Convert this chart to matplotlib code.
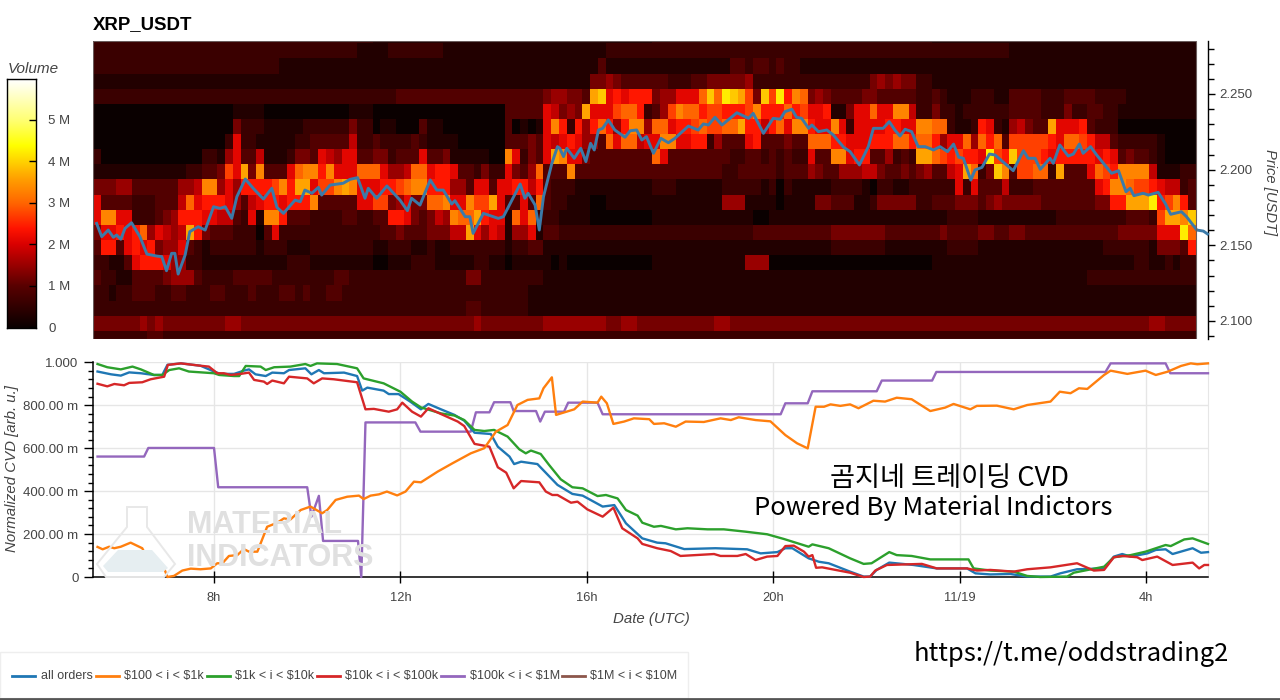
import numpy as np
import matplotlib
matplotlib.use("Agg")
import matplotlib.pyplot as plt
from matplotlib.colors import LinearSegmentedColormap
from matplotlib.lines import Line2D
from matplotlib.patches import Polygon, Rectangle
from matplotlib.ticker import FixedLocator

plt.rcParams["font.family"] = ["Liberation Sans", "DejaVu Sans"]

# volume per price bin, one row per 0.01 USDT from the top, one hex digit = 0.3 M
HEAT_ROWS = [
    "222222 222222 222222 222222 222222 222222 111111 111111 111111 111111 111111 111111 222222 222222 222222 222222 222222 222222 111111 111111 111111 111111 111111 1111",
    "222222 222222 222222 222222 222222 222211 112222 222111 111111 111111 111111 222222 222222 222222 222222 222222 222222 222222 222222 222211 111111 111111 111111 1111",
    "222222 222222 222222 222222 111111 111111 111111 111111 111111 111111 111113 111111 111111 111133 233232 211111 111111 111111 111111 111111 111111 111111 111111 1111",
    "111111 111111 111111 111111 111111 111111 111111 111111 111111 111111 111144 543333 332223 344444 522222 222222 222245 454422 111111 111111 111111 111111 111111 1111",
    "222222 222222 222222 222222 222222 222222 222333 333333 333333 333345 5443cd 787888 455777 adaedc 94d9e8 ba4543 333443 333322 321112 221133 332223 333222 211111 1111",
    "000000 000000 000000 111100 000000 000111 000000 000000 000003 333376 454c77 79aa82 359baa 899888 9b888a 897781 1477a7 7bb622 422122 222233 332224 223322 111111 1111",
    "000000 000000 000000 422211 111222 222422 011000 311000 000003 01017b 82858a 858bb5 aa7889 a99aac 8868a7 bb877b 727777 8877bb aa2112 872156 433c77 783222 000000 0000",
    "000000 000000 000002 722111 112233 333622 322223 211110 000003 334376 787553 a7aa67 7bb778 825333 783334 33aaa8 877788 8aa8aa 8577a5 a8a399 99987a a98663 222221 0000",
    "200000 000000 002215 733611 124437 657733 442333 733411 11100b 72437c b77433 333333 a73333 333322 332323 22733b b78833 5232cc a98988 7e98d9 998788 888787 343321 0000",
    "111111 111111 223349 7c4b33 37abb8 b777aa a7556a a78873 324227 435a33 3b3333 333333 333333 333223 333323 335433 555664 334345 3367ca 24db39 9aa2c3 337a98 bbbb61 1122",
    "444553 333335 56bb57 588889 b8cc79 9bcb77 7889ab b88855 377377 886832 221111 111111 222111 111222 221202 111112 222102 211222 222727 333622 233333 33378b ba9987 6623",
    "733332 223336 a78887 536788 7888b3 333377 994574 4aab77 b99c73 373a32 211100 111111 111111 111555 111101 111443 331124 444422 333444 345444 443333 333448 8ccce8 9b83",
    "7bb772 223458 887766 3271bb 833322 223322 338874 3465ba ac8771 a7a222 111100 000000 111111 111111 100111 111111 111111 111111 112222 111111 111122 222222 233329 ccbd",
    "477878 a57656 c84333 222037 222222 222222 233433 344466 c75761 557133 222222 222222 222222 222222 233333 333334 444444 333333 343333 443344 333333 333333 444447 77ea",
    "388378 784557 321222 222122 211122 222222 112221 121122 222221 223311 111111 111111 111111 111111 111111 111112 222222 111111 112222 111111 111111 111122 222214 4438",
    "221137 888755 221111 111111 122211 111111 001112 221111 122110 111110 100000 000000 111111 111111 555000 000000 000000 000000 111111 111111 111111 111111 112211 2122",
    "322113 333455 532222 333332 222222 233222 222222 222222 442222 222211 111111 111111 111111 111111 111111 111111 111111 111111 111111 111111 111111 112222 222222 2222",
    "221223 332233 222332 223222 332322 332222 222222 222222 222222 221111 111111 111111 111111 111111 111111 111111 111111 111111 111111 111111 111111 111111 111111 1111",
    "222222 222222 222222 222222 222222 222222 222222 222222 332222 221111 111111 111111 111111 111111 111111 111111 111111 111111 111111 111111 111111 111111 111111 1111",
    "444444 545444 444445 544444 444444 444444 444444 444444 454444 444455 555555 445544 444444 445544 444444 444444 444444 444444 444444 444444 444444 444444 444455 4444",
    "222222 233222 222222 222222 222222 222222 222222 222222 222222 222222 222222 222222 222222 222222 222222 222222 222222 222222 222222 222222 222222 222222 222222 2222",
]

price_t = [5.48, 5.59, 5.73, 5.84, 5.91, 6.00, 6.09, 6.23, 6.41, 6.56, 6.77, 6.88, 6.98, 7.09, 7.16, 7.23, 7.38, 7.48, 7.66, 7.81,
           7.99, 8.13, 8.24, 8.38, 8.49, 8.67, 8.84, 9.06, 9.24, 9.35, 9.49, 9.74, 9.85, 9.95, 10.10, 10.24, 10.31, 10.49, 10.77, 10.92,
           11.08, 11.24, 11.31, 11.49, 11.71, 11.99, 12.15, 12.24, 12.42, 12.64, 12.78, 12.92, 13.10, 13.17, 13.39, 13.49, 13.56, 13.78, 14.10, 14.21,
           14.57, 14.67, 14.74, 14.89, 14.98, 15.07, 15.25, 15.37, 15.42, 15.50, 15.57, 15.73, 15.87, 15.98, 16.08, 16.16, 16.25, 16.34, 16.46, 16.60,
           16.82, 16.93, 17.07, 17.18, 17.28, 17.43, 17.59, 17.75, 17.89, 18.18, 18.39, 18.50, 18.61, 18.75, 18.90, 19.22, 19.47, 19.57, 19.79, 20.00,
           20.15, 20.25, 20.40, 20.50, 20.61, 20.76, 20.83, 20.97, 21.15, 21.29, 21.51, 21.65, 21.85, 22.04, 22.15, 22.36, 22.49, 22.61, 22.72, 22.83,
           22.97, 23.11, 23.26, 23.44, 23.58, 23.74, 23.87, 23.98, 24.08, 24.24, 24.33, 24.48, 24.64, 24.76, 25.15, 25.37, 25.47, 25.62, 25.73, 25.94,
           26.01, 26.15, 26.33, 26.44, 26.57, 26.65, 26.81, 26.94, 27.26, 27.41, 27.57, 27.66, 27.74, 27.94, 28.05, 28.26, 28.41, 28.53, 28.76, 28.87,
           29.09, 29.23, 29.32]
price = [2.1645, 2.1557, 2.1601, 2.1553, 2.1568, 2.1540, 2.1612, 2.1649, 2.1557, 2.1442, 2.1429, 2.1425, 2.1332, 2.1447, 2.1447, 2.1310, 2.1436, 2.1590, 2.1623, 2.1601,
         2.1755, 2.1744, 2.1755, 2.1678, 2.1821, 2.1938, 2.1877, 2.1806, 2.1877, 2.1751, 2.1711, 2.1799, 2.1788, 2.1865, 2.1844, 2.1883, 2.1832, 2.1898, 2.1910, 2.1936,
         2.1947, 2.1811, 2.1877, 2.1811, 2.1892, 2.1799, 2.1729, 2.1811, 2.1766, 2.1932, 2.1865, 2.1865, 2.1773, 2.1795, 2.1689, 2.1689, 2.1579, 2.1711, 2.1678, 2.1689,
         2.1905, 2.1811, 2.1844, 2.1766, 2.1601, 2.1821, 2.2042, 2.2152, 2.2141, 2.2086, 2.2141, 2.2075, 2.2141, 2.2053, 2.2174, 2.2130, 2.2262, 2.2273, 2.2328, 2.2262,
         2.2214, 2.2257, 2.2262, 2.2196, 2.2218, 2.2108, 2.2207, 2.2178, 2.2207, 2.2288, 2.2262, 2.2302, 2.2295, 2.2346, 2.2295, 2.2376, 2.2339, 2.2372, 2.2240, 2.2339,
         2.2333, 2.2383, 2.2399, 2.2346, 2.2339, 2.2273, 2.2295, 2.2251, 2.2262, 2.2229, 2.2148, 2.2119, 2.2031, 2.2152, 2.2273, 2.2273, 2.2317, 2.2262, 2.2222, 2.2267,
         2.2251, 2.2152, 2.2152, 2.2130, 2.2152, 2.2119, 2.2169, 2.2082, 2.2075, 2.1931, 2.1998, 2.2015, 2.2103, 2.2097, 2.1993, 2.2125, 2.2075, 2.2075, 2.2002, 2.2075,
         2.2042, 2.2163, 2.2090, 2.2103, 2.2169, 2.2108, 2.2152, 2.2097, 2.1976, 2.1993, 2.1854, 2.1877, 2.1828, 2.1844, 2.1832, 2.1850, 2.1778, 2.1705, 2.1722, 2.1689,
         2.1601, 2.1594, 2.1575]

orange_t = [5.5, 5.61, 5.75, 5.86, 6, 6.21, 6.46, 6.61, 6.79, 6.93, 7.0, 7.14, 7.32, 7.5, 7.71, 7.93, 8.07, 8.18, 8.32, 8.5, 8.64, 8.75, 8.93, 9.14, 9.36, 9.5, 9.64, 9.86, 10.07, 10.32, 10.43, 10.61, 10.86, 11.11, 11.21, 11.36, 11.54, 11.71, 11.93, 12.11, 12.29, 12.44,
            12.8, 13.12, 13.51, 13.8, 14.05, 14.3, 14.51, 14.73, 14.98, 15.07, 15.25, 15.34, 15.73, 15.91, 16.23, 16.31, 16.43, 16.57, 16.8, 17.01, 17.34, 17.44, 17.66, 17.91, 18.12, 18.51, 18.87, 19.09, 19.26, 19.62, 19.94, 20.26, 20.51, 20.74, 20.91, 21.09, 21.23, 21.44, 21.65,
            21.83, 22.15, 22.4, 22.65, 22.97, 23.37, 23.69, 23.87, 24.23, 24.37, 24.8, 25.16, 25.45, 25.95, 26.15, 26.38, 26.56, 26.74, 27.1, 27.24, 27.6, 27.99, 28.21, 28.46, 28.75, 28.96, 29.1, 29.33]
orange = [.14, .129, .141, .134, .141, .16, .134, .07, .033, .04, 0, .005, .03, .039, .036, .04, .064, .064, .098, .102, .13, .118, .118, .234, .253, .273, .268, .312, .328, .297, .312, .359, .374, .379, .363, .379, .385, .398, .38, .398, .444, .441,
          .491, .53, .576, .6, .677, .708, .801, .825, .832, .879, .93, .755, .781, .817, .812, .84, .809, .713, .724, .739, .735, .713, .716, .7, .724, .722, .739, .731, .744, .731, .725, .661, .623, .599, .793, .793, .804, .797, .804,
          .786, .821, .817, .835, .828, .773, .789, .806, .781, .797, .798, .781, .801, .817, .863, .856, .879, .876, .941, .961, .946, .961, .941, .956, .983, .995, .991, .995]

green_t = [5.5, 5.71, 6, 6.25, 6.43, 6.71, 6.89, 7.04, 7.25, 7.46, 8, 8.11, 8.43, 8.54, 8.68, 9, 9.11, 9.29, 9.64, 9.96, 10.07, 10.21, 10.64, 11.07, 11.21, 11.64, 12, 12.25, 12.44,
           12.87, 13.16, 13.37, 13.59, 13.8, 14.01, 14.3, 14.55, 14.69, 14.8, 15.01, 15.19, 15.44, 15.69, 15.91, 16.23, 16.41, 16.66, 16.84, 17.09, 17.19, 17.44, 17.59, 17.91, 18.16, 18.59, 18.94, 19.41, 19.87, 20.23, 20.76, 20.84, 21.19, 21.65,
           21.94, 22.11, 22.49, 22.65, 22.97, 23.37, 24.19, 24.3, 24.66, 25.16, 25.45, 25.73, 26.31, 26.45, 27.1, 27.31, 27.67, 27.99, 28.42, 28.53, 28.82, 29, 29.33]
green = [.992, .977, .967, .98, .967, .941, .941, .964, .972, .957, .949, .941, .936, .936, .983, .98, .964, .977, .98, .992, .983, .995, .992, .972, .925, .902, .863, .817, .79,
         .762, .752, .731, .685, .68, .685, .654, .595, .576, .589, .573, .522, .455, .418, .413, .377, .382, .366, .312, .286, .253, .234, .238, .222, .227, .222, .222, .211, .199, .177, .141, .152, .134, .087,
         .061, .064, .116, .102, .098, .082, .082, .04, .03, .025, .005, 0, .002, .02, .048, .092, .102, .118, .149, .144, .175, .18, .154]

blue_t = [5.5, 5.79, 6, 6.18, 6.43, 6.71, 6.89, 7, 7.29, 7.71, 8, 8.14, 8.43, 8.64, 8.75, 8.89, 9.11, 9.25, 9.5, 9.61, 9.96, 10.09, 10.25, 10.36, 10.79, 11.07, 11.18, 11.29, 11.64, 11.75, 11.96, 12.21, 12.44,
          12.6, 12.87, 13.16, 13.37, 13.59, 13.94, 14.09, 14.34, 14.44, 14.59, 14.94, 15.37, 15.69, 15.91, 16.34, 16.59, 16.84, 17.19, 17.51, 17.69, 18.09, 18.76, 19.44, 19.73, 20.09, 20.26, 20.41, 20.76, 20.98, 21.19, 21.65,
          21.94, 22.08, 22.22, 22.49, 23.01, 23.51, 24.16, 24.34, 24.66, 25.09, 25.45, 25.95, 26.16, 26.52, 27.1, 27.31, 27.49, 27.67, 28.03, 28.21, 28.42, 28.57, 29, 29.18, 29.33]
blue = [.957, .944, .938, .953, .949, .941, .941, .988, .995, .984, .957, .946, .946, .961, .967, .944, .936, .952, .949, .964, .972, .944, .964, .949, .952, .936, .868, .882, .868, .852, .852, .817, .781,
        .806, .781, .755, .728, .672, .666, .607, .561, .526, .537, .526, .429, .387, .379, .328, .335, .25, .18, .16, .157, .13, .134, .129, .11, .116, .134, .134, .087, .071, .064, .025,
        .002, .002, .033, .067, .056, .04, .04, .017, .012, .014, .002, .002, .017, .036, .04, .095, .107, .095, .11, .126, .129, .107, .134, .113, .116]

red_t = [5.5, 5.71, 5.86, 6.07, 6.18, 6.46, 6.64, 6.93, 7.01, 7.29, 7.71, 7.89, 8.07, 8.21, 8.36, 8.57, 8.75, 8.86, 9.07, 9.14, 9.25, 9.5, 9.61, 10, 10.14, 10.32, 10.57, 11.07, 11.25, 11.43, 11.75, 11.93, 12.04, 12.25, 12.44,
         12.6, 12.87, 13.23, 13.37, 13.59, 13.91, 14.09, 14.27, 14.43, 14.59, 14.98, 15.12, 15.26, 15.37, 15.66, 15.8, 16.01, 16.34, 16.57, 16.76, 17.09, 17.19, 17.51, 17.8, 18.01, 18.73, 18.87, 19.23, 19.41, 19.62, 19.87, 20.09, 20.26, 20.44, 20.66, 20.76, 20.84, 20.92, 21.05, 21.65,
         21.94, 22.08, 22.19, 22.44, 23.19, 23.51, 24.16, 24.37, 24.66, 25.16, 25.45, 25.95, 26.52, 26.88, 27.1, 27.31, 27.49, 27.81, 27.92, 28.24, 28.57, 29, 29.14, 29.25, 29.33]
red = [.9, .888, .899, .893, .904, .907, .921, .933, .988, .995, .984, .98, .949, .949, .941, .946, .952, .918, .91, .899, .915, .902, .933, .925, .902, .925, .921, .907, .781, .783, .77, .781, .812, .77, .747,
       .786, .759, .724, .703, .62, .607, .511, .486, .413, .447, .441, .398, .382, .382, .346, .351, .315, .281, .323, .227, .18, .154, .134, .121, .098, .107, .098, .098, .107, .079, .095, .098, .144, .146, .118, .095, .102, .043, .045, .02,
       0, .002, .03, .056, .061, .04, .04, .03, .033, .025, .036, .045, .064, .03, .033, .092, .098, .092, .079, .095, .056, .067, .04, .056, .056]

purple_t = [5.5, 6.5, 6.59, 8, 8.09, 10, 10.09, 10.25, 10.34, 11.09, 11.16, 11.25, 12.32, 12.43, 13.51, 13.62, 13.91, 14.01, 14.36, 14.43, 14.91, 15, 15.1, 15.51, 15.6, 16.23, 16.34, 20.16, 20.26, 20.74, 20.84, 22.22, 22.33, 23.41, 23.5, 27.13, 27.24, 28.42, 28.52, 29.33]
purple = [.561, .561, .601, .601, .418, .418, .281, .378, .168, .168, 0, .72, .72, .677, .677, .767, .767, .814, .814, .773, .773, .724, .77, .77, .812, .812, .758, .758, .809, .809, .865, .865, .915, .915, .955, .955, .995, .995, .949, .949]

price_ticks = [2.10, 2.15, 2.20, 2.25]
cvd_ticks = [0, 0.2, 0.4, 0.6, 0.8, 1.0]
cvd_labels = ["0", "200.00 m", "400.00 m", "600.00 m", "800.00 m", "1.000"]
hour_ticks = [8, 12, 16, 20, 24, 28]
hour_labels = ["8h", "12h", "16h", "20h", "11/19", "4h"]
volume_ticks = [0, 1, 2, 3, 4, 5]
volume_labels = ["0", "1 M", "2 M", "3 M", "4 M", "5 M"]
legend_names = ["all orders", "$100 < i < $1k", "$1k < i < $10k", "$10k < i < $100k", "$100k < i < $1M", "$1M < i < $10M"]
line_colors = ["#1f77b4", "#ff7f0e", "#2ca02c", "#d62728", "#9467bd", "#8c564b"]

W, H = 1280, 700
TXT = "#444444"


def axes_px(fig, left, top, right, bottom):
    return fig.add_axes([left / W, 1 - bottom / H, (right - left) / W, (bottom - top) / H])


volume_cmap = LinearSegmentedColormap.from_list("volume", [
    (0.0, "#0a0000"), (1 / 6, "#580000"), (2 / 6, "#d80000"), (2.4 / 6, "#ff1400"),
    (3 / 6, "#ff6400"), (3.6 / 6, "#ffa000"), (4 / 6, "#ffd000"), (4.4 / 6, "#ffff00"),
    (5 / 6, "#ffff70"), (1.0, "#ffffff")])

fig = plt.figure(figsize=(12.8, 7), dpi=100)
xlim = (5.403, 29.33)

# heatmap and price
ax = axes_px(fig, 93, 41, 1208, 339)
levels = np.array([[int(c, 16) for c in row.replace(" ", "")] for row in HEAT_ROWS])
volume = levels * 0.3 + 0.02
t_edges = 5.403 + np.arange(levels.shape[1] + 1) / 6
p_edges = 2.2935 - np.arange(levels.shape[0] + 1) * 0.01
ax.pcolormesh(t_edges, p_edges, volume, cmap=volume_cmap, vmin=0, vmax=6, shading="flat", rasterized=True)
ax.plot(price_t, price, color="#3b7aa8", lw=2.1, clip_on=False, zorder=3)
ax.set_xlim(*xlim)
ax.set_ylim(2.0881, 2.2850)
ax.add_patch(Rectangle((xlim[0], 2.0881), t_edges[-1] - xlim[0], 2.2850 - 2.0881, fill=False, ec="#6a5c5c", lw=0.8, zorder=4))
for s in ["left", "top", "bottom"]:
    ax.spines[s].set_visible(False)
ax.spines["right"].set_linewidth(1.0)
ax.set_xticks([])
ax.yaxis.tick_right()
ax.set_yticks(price_ticks)
ax.set_yticklabels([f"{p:.3f}" for p in price_ticks])
ax.yaxis.set_minor_locator(FixedLocator(np.arange(2.09, 2.285, 0.01)))
ax.tick_params(axis="y", which="major", length=5, width=1, direction="out", labelsize=9.5, labelcolor=TXT, pad=3)
ax.tick_params(axis="y", which="minor", length=4, width=1, direction="out")
fig.text(93 / W, 1 - 25 / H, "XRP_USDT", fontsize=13.4, fontweight="bold", color="black", ha="left", va="center")
fig.text(1270 / W, 1 - 192 / H, "Price [USDT]", fontsize=10.6, style="italic", color=TXT, rotation=270, ha="center", va="center")

# colour bar
cax = axes_px(fig, 7, 79, 36, 328)
gradient = np.linspace(0, 6, 256).reshape(-1, 1)
cax.imshow(gradient, origin="lower", aspect="auto", cmap=volume_cmap, extent=[0, 1, -0.02, 5.98], vmin=0, vmax=6)
cax.set_xticks([])
cax.yaxis.tick_right()
cax.set_yticks(volume_ticks)
cax.set_yticklabels(volume_labels)
cax.tick_params(axis="y", length=5, width=1, direction="in", labelsize=9.5, labelcolor=TXT, pad=9)
for s in cax.spines.values():
    s.set_linewidth(1.0)
fig.text(8 / W, 1 - 69 / H, "Volume", fontsize=11, style="italic", color=TXT, ha="left", va="center")

# normalized CVD
bx = axes_px(fig, 93, 362.3, 1208, 577)
bx.set_xlim(*xlim)
bx.set_ylim(0, 1)
bx.grid(True, color="#e6e6e6", lw=1)
bx.set_axisbelow(True)
series = [(blue_t, blue), (orange_t, orange), (green_t, green), (red_t, red), (purple_t, purple)]
draw_order = [4, 0, 2, 3, 1]
for i in draw_order:
    bx.plot(series[i][0], series[i][1], color=line_colors[i], lw=1.7, clip_on=False, zorder=3, solid_joinstyle="round")
bx.spines["top"].set_visible(False)
bx.spines["right"].set_color("#e6e6e6")
bx.spines["left"].set_linewidth(1.1)
bx.spines["bottom"].set_linewidth(1.1)
bx.set_yticks(cvd_ticks)
bx.set_yticklabels(cvd_labels)
bx.yaxis.set_minor_locator(FixedLocator(np.arange(0, 1.001, 0.04)))
bx.set_xticks(hour_ticks)
bx.set_xticklabels(hour_labels)
bx.tick_params(axis="y", which="major", length=6.5, width=1, labelsize=9.5, labelcolor=TXT, pad=4)
bx.tick_params(axis="y", which="minor", length=3.5, width=1)
bx.tick_params(axis="x", which="major", length=8, width=1, direction="inout", labelsize=9.3, labelcolor=TXT, pad=7)
fig.text(12 / W, 1 - 469 / H, "Normalized CVD [arb. u.]", fontsize=10.8, style="italic", color=TXT, rotation=90, ha="center", va="center")
fig.text(651 / W, 1 - 619 / H, "Date (UTC)", fontsize=10.8, style="italic", color=TXT, ha="center", va="center")

# watermark
wm = "#e0e0e0"
fig.add_artist(Polygon([[x / W, 1 - y / H] for x, y in [(127, 507), (147, 507), (147, 527), (175, 564), (164, 577), (106, 577), (97, 564), (127, 527)]],
                       closed=True, fill=False, ec="#e8e8e8", lw=1.4, zorder=1))
fig.add_artist(Polygon([[x / W, 1 - y / H] for x, y in [(118, 550), (152, 550), (168, 568), (163, 572), (108, 572), (103, 566)]],
                       closed=True, fc="#e6eef1", ec="none", zorder=1))
for label, y in [("MATERIAL", 525), ("INDICATORS", 558)]:
    fig.text(187 / W, 1 - y / H, label, fontsize=22, fontweight="bold", color=wm, ha="left", va="center", zorder=1)

# text pasted on top of the chart
KR = ["Noto Sans CJK KR", "DejaVu Sans"]
fig.text(950 / W, 1 - 478 / H, "곰지네 트레이딩 CVD", fontsize=19.6, fontweight="medium", color="black", ha="center", va="center", family=KR, zorder=6)
fig.text(933 / W, 1 - 508 / H, "Powered By Material Indictors", fontsize=18.4, fontweight="medium", color="black", ha="center", va="center", family=KR, zorder=6)
fig.text(1071 / W, 1 - 654 / H, "https://t.me/oddstrading2", fontsize=18.4, fontweight="medium", color="black", ha="center", va="center", family=KR, zorder=6)

# legend
fig.add_artist(Rectangle((0, 1 - 698 / H), 688 / W, 46 / H, transform=fig.transFigure, fc="white", ec="#eeeeee", lw=1))
fig.add_artist(Line2D([0, 1], [1 - 699 / H, 1 - 699 / H], color="#555555", lw=2))
line_x = [12, 96, 207, 317, 441, 562]
text_x = [41, 124, 235, 345, 470, 590]
for name, color, lx, tx in zip(legend_names, line_colors, line_x, text_x):
    fig.add_artist(Line2D([lx / W, (lx + 23) / W], [1 - 676 / H, 1 - 676 / H], color=color, lw=2))
    fig.text(tx / W, 1 - 676 / H, name.replace("$", r"\$"), fontsize=9, color=TXT, ha="left", va="center")

fig.savefig("out.png", dpi=100)
